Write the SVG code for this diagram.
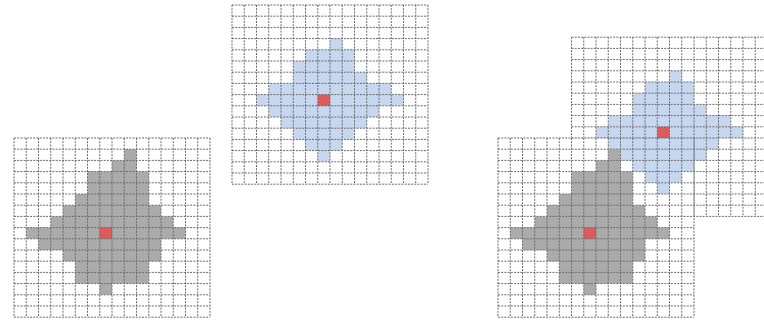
<svg xmlns="http://www.w3.org/2000/svg" xmlns:xlink="http://www.w3.org/1999/xlink" width="764" height="321" viewBox="0 0 764 321">
  <style>
    .grid { fill: none; stroke: #6a6a6a; stroke-width: 1; stroke-dasharray: 2 1.2; }
    .grey { fill: #ababab; }
    .blue { fill: #c7d7f0; }
    .red { fill: #de5b5b; }
  </style>
  <defs>
    <path id="gridLines" class="grid" d="M0 0V179.2M12.25 0V179.2M24.5 0V179.2M36.75 0V179.2M49 0V179.2M61.25 0V179.2M73.5 0V179.2M85.75 0V179.2M98 0V179.2M110.25 0V179.2M122.5 0V179.2M134.75 0V179.2M147 0V179.2M159.25 0V179.2M171.5 0V179.2M183.75 0V179.2M196 0V179.2M0 0H196M0 11.2H196M0 22.4H196M0 33.6H196M0 44.8H196M0 56H196M0 67.2H196M0 78.4H196M0 89.6H196M0 100.8H196M0 112H196M0 123.2H196M0 134.4H196M0 145.6H196M0 156.8H196M0 168H196M0 179.2H196"/>
    <g id="greyShape" transform="scale(12.25 11.2)">
      <path class="grey" d="M9 1H10V2H9ZM8 2H10V3H8ZM6 3H11V4H6ZM6 4H11V5H6ZM5 5H11V6H5ZM4 6H12V7H4ZM3 7H13V8H3ZM1 8H14V9H1ZM2 9H12V10H2ZM4 10H12V11H4ZM5 11H11V12H5ZM5 12H11V13H5ZM7 13H8V14H7Z"/>
      <path class="red" d="M7 8H8V9H7Z"/>
    </g>
    <g id="blueShape" transform="scale(12.25 11.2)">
      <path class="blue" d="M8 3H9V4H8ZM6 4H10V5H6ZM5 5H10V6H5ZM5 6H11V7H5ZM3 7H13V8H3ZM2 8H14V9H2ZM3 9H12V10H3ZM4 10H11V11H4ZM5 11H10V12H5ZM6 12H9V13H6ZM7 13H8V14H7Z"/>
      <path class="red" d="M7 8H8V9H7Z"/>
    </g>
    <clipPath id="blueOnly">
      <path d="M570 36H770V218H693.5V137.5H570Z"/>
    </clipPath>
  </defs>
  <rect width="764" height="321" fill="#ffffff"/>
  <g id="grid-grey" transform="translate(14 138)">
    <use xlink:href="#greyShape" href="#greyShape"/>
    <use xlink:href="#gridLines" href="#gridLines"/>
  </g>
  <g id="grid-blue" transform="translate(232 5)">
    <use xlink:href="#blueShape" href="#blueShape"/>
    <use xlink:href="#gridLines" href="#gridLines"/>
  </g>
  <g id="composite">
    <g id="composite-grey" transform="translate(498 138)">
      <use xlink:href="#greyShape" href="#greyShape"/>
    </g>
    <g id="composite-blue" transform="translate(571.5 37.2)">
      <use xlink:href="#blueShape" href="#blueShape"/>
    </g>
    <use xlink:href="#gridLines" href="#gridLines" transform="translate(498 138)"/>
    <g clip-path="url(#blueOnly)">
      <use xlink:href="#gridLines" href="#gridLines" transform="translate(571.5 37.2)"/>
    </g>
  </g>
  <g id="connectors"/>
</svg>
